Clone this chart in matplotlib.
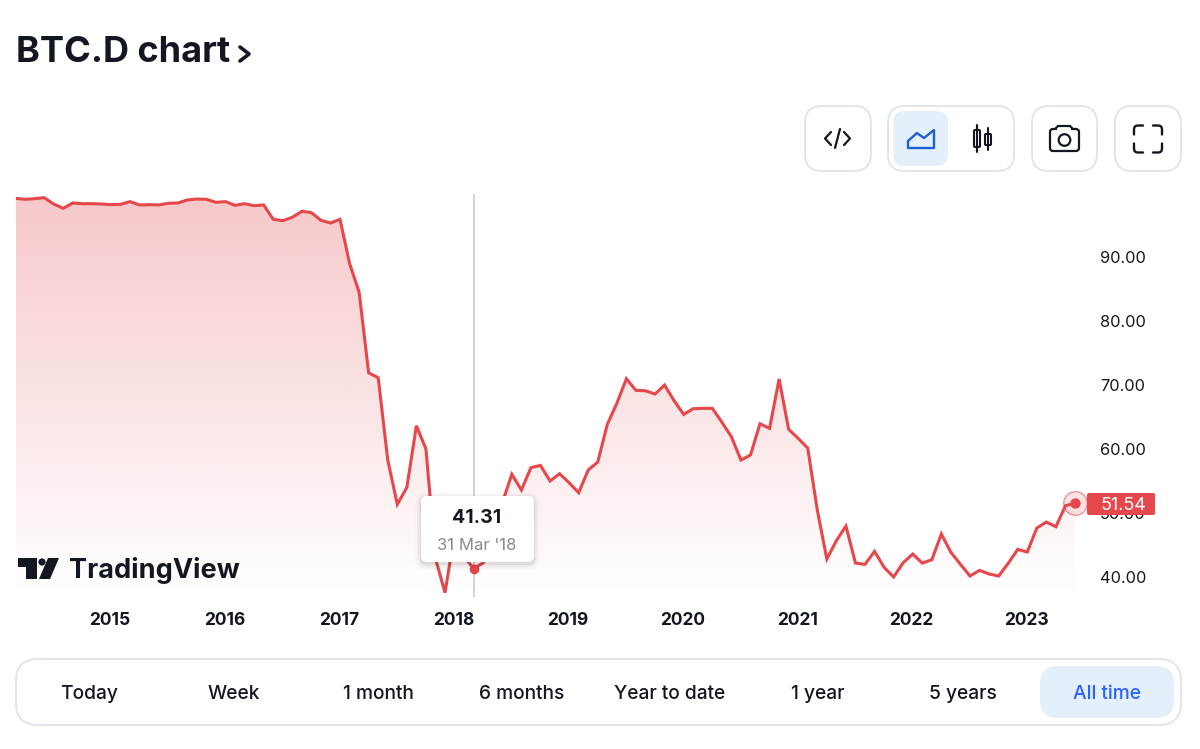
import matplotlib
matplotlib.use("Agg")
import matplotlib.pyplot as plt
import numpy as np
import pandas as pd
from matplotlib.patches import Circle, FancyBboxPatch, PathPatch, Polygon
from matplotlib.path import Path
from matplotlib.transforms import ScaledTranslation

plt.rcParams['font.family'] = ['Inter', 'DejaVu Sans']

W, H = 1200, 749

# monthly closes, Mar 2014 .. Jun 2023
dates = pd.date_range('2014-03-31', periods=112, freq='ME')
dominance = [
    99.17, 99.01, 99.11, 99.27, 98.28, 97.60, 98.44, 98.33, 98.33, 98.28,
    98.18, 98.23, 98.65, 98.13, 98.18, 98.13, 98.39, 98.44, 98.91, 99.06,
    99.01, 98.54, 98.65, 98.07, 98.33, 98.02, 98.13, 95.89, 95.68, 96.20,
    97.14, 96.93, 95.73, 95.31, 95.89, 89.00, 84.50, 71.90, 71.14, 58.28,
    51.35, 54.00, 63.64, 60.00, 42.90, 37.55, 46.80, 43.20, 41.31, 42.20,
    44.70, 51.60, 56.04, 53.60, 57.08, 57.44, 55.00, 56.14, 54.73, 53.17,
    56.71, 57.96, 63.85, 67.13, 70.98, 69.16, 69.10, 68.59, 69.99, 67.55,
    65.41, 66.30, 66.35, 66.35, 64.20, 61.92, 58.27, 59.06, 63.95, 63.22,
    70.93, 63.07, 61.66, 60.15, 50.47, 42.81, 45.67, 47.96, 42.18, 41.98,
    44.00, 41.51, 40.00, 42.24, 43.59, 42.18, 42.70, 46.72, 43.85, 41.98,
    40.15, 41.04, 40.47, 40.15, 42.13, 44.32, 43.90, 47.65, 48.59, 47.86,
    51.14, 51.54,
]
y_ticks = [40, 50, 60, 70, 80, 90]
ranges = ['Today', 'Week', '1 month', '6 months', 'Year to date', '1 year', '5 years', 'All time']
range_centers = [89, 234, 378, 522, 670, 818, 963, 1107]
hover_date = '2018-03-31'
hover_text = "31 Mar '18"

RED = '#e5474b'
INK = '#131722'
BORDER = '#e0e3eb'
BLUE = '#2962ff'
PALE = '#e3effb'


def rounded(ax, x0, y0, x1, y1, r, **kw):
    r = min(r, (x1 - x0) / 2, (y1 - y0) / 2)
    box = FancyBboxPatch((x0 + r, y0 + r), x1 - x0 - 2 * r, y1 - y0 - 2 * r,
                         boxstyle=f'round,pad={r},rounding_size={r}', **kw)
    ax.add_patch(box)


def stroke(ax, xs, ys, color=INK, lw=1.6):
    ax.plot(xs, ys, color=color, lw=lw, solid_capstyle='round', solid_joinstyle='round')


fig = plt.figure(figsize=(W / 100, H / 100), dpi=100, facecolor='white')

# chart panel, px 15.5..1075 across and 194..597 down
ax = fig.add_axes([15.5 / W, 1 - 597 / H, (1075 - 15.5) / W, (597 - 194) / H])
y_low, y_high = 40 - 20 / 6.4, 40 + 383 / 6.4
idx = np.arange(len(dates))

# vertical gradient under the line
grad = np.zeros((256, 2, 4))
grad[..., :3] = matplotlib.colors.to_rgb(RED)
grad[..., 3] = np.linspace(0.30, 0.0, 256)[:, None]
img = ax.imshow(grad, extent=(0, idx[-1], y_low, y_high), aspect='auto', origin='upper', zorder=1)
outline = np.column_stack([np.r_[idx[0], idx, idx[-1]], np.r_[y_low, dominance, y_low]])
clip = Polygon(outline, closed=True, transform=ax.transData, fc='none', ec='none')
ax.add_patch(clip)
img.set_clip_path(clip)

hover_i = dates.get_loc(pd.Timestamp(hover_date))
ax.axvline(hover_i, color='#c8c8c8', lw=1.1, zorder=2)
ax.plot(idx, dominance, color=RED, lw=2.2, zorder=3, solid_joinstyle='miter')
ax.plot([hover_i], [dominance[hover_i]], 'o', color=RED, ms=7, mew=0, zorder=4)

# halo and dot on the last value
ax.plot([idx[-1]], [dominance[-1]], 'o', ms=17, mfc=(0.9, 0.28, 0.29, 0.15), mec=(0.9, 0.28, 0.29, 0.6),
        mew=0.9, zorder=4, clip_on=False)
ax.plot([idx[-1]], [dominance[-1]], 'o', color=RED, ms=6.5, zorder=5, clip_on=False)

ax.set_xlim(idx[0], idx[-1])
ax.set_ylim(y_low, y_high)
for s in ax.spines.values():
    s.set_visible(False)
ax.yaxis.tick_right()
ax.set_yticks(y_ticks)
ax.set_yticklabels([f'{v:.2f}' for v in y_ticks], fontsize=11.8, color=INK)
jan = [i for i, d in enumerate(dates) if d.month == 1]
ax.set_xticks(jan)
ax.set_xticklabels([str(dates[i].year) for i in jan], fontsize=12.5, color=INK, fontweight='bold')
ax.tick_params(axis='y', length=0, pad=18)
ax.tick_params(axis='x', length=0, pad=10.5)
nudge = ScaledTranslation(-1 / 100, 0, fig.dpi_scale_trans)
for lab in ax.get_xticklabels():
    lab.set_transform(lab.get_transform() + nudge)

# everything around the chart is drawn in pixel coordinates on top
ui = fig.add_axes([0, 0, 1, 1], zorder=5)
ui.set_xlim(0, W)
ui.set_ylim(H, 0)
ui.axis('off')
ui.patch.set_alpha(0)

# title
ui.text(16, 52, 'BTC.D chart', fontsize=26, fontweight='bold', color=INK, va='center', ha='left')
stroke(ui, [240, 249, 240], [47, 54, 61], lw=2.6)

# toolbar
for x0, x1 in [(805, 871), (888, 1014), (1032, 1097), (1115, 1181)]:
    rounded(ui, x0, 106, x1, 171, 17, fc='white', ec=BORDER, lw=1.3)
rounded(ui, 893, 111, 948, 166, 12, fc=PALE, ec='none')

stroke(ui, [831, 825, 831], [132, 138.5, 145])
stroke(ui, [844, 850, 844], [132, 138.5, 145])
stroke(ui, [840, 835], [129, 148])

ui.add_patch(Polygon([(908, 148), (908, 141), (917, 133), (924, 138), (934, 130), (934, 148)], closed=True,
                     fc='none', ec='#1f5fd6', lw=1.7, joinstyle='round'))

stroke(ui, [977, 977], [125, 152], lw=1.5)
rounded(ui, 974, 130, 980, 147, 1, fc='white', ec=INK, lw=1.5)
stroke(ui, [988, 988], [128, 150], lw=1.5)
rounded(ui, 985, 134, 991, 145, 1, fc='white', ec=INK, lw=1.5)

rounded(ui, 1050, 129, 1079, 151, 3, fc='none', ec=INK, lw=1.6)
rounded(ui, 1057, 126, 1071, 132, 2, fc='white', ec='none')
stroke(ui, [1055, 1058, 1070, 1073], [129, 126, 126, 129])
ui.add_patch(Circle((1064.5, 140), 5.8, fc='none', ec=INK, lw=1.6))

# fullscreen corners with rounded elbows
for sx, sy in [(-1, -1), (1, -1), (-1, 1), (1, 1)]:
    cx, cy = 1148 + sx * 14, 139 + sy * 13.5
    corner = Path([(cx, cy - sy * 9), (cx, cy - sy * 4), (cx, cy), (cx - sx * 4, cy), (cx - sx * 9, cy)],
                  [Path.MOVETO, Path.LINETO, Path.CURVE3, Path.CURVE3, Path.LINETO])
    ui.add_patch(PathPatch(corner, fc='none', ec=INK, lw=1.7, capstyle='round'))

# TradingView mark
ui.add_patch(Polygon([(18, 558), (37, 558), (37, 579), (26, 579), (26, 567), (18, 567)], closed=True, fc=INK, ec='none'))
ui.add_patch(Circle((42, 562), 3.6, fc=INK, ec='none'))
ui.add_patch(Polygon([(48, 558), (59, 558), (50, 579), (39, 579)], closed=True, fc=INK, ec='none'))
ui.text(69, 571, 'TradingView', fontsize=19.5, fontweight='bold', color=INK, va='center', ha='left')

# tooltip with a soft shadow
for grow, alpha in [(6, 0.015), (4, 0.025), (2.5, 0.035), (1, 0.05)]:
    rounded(ui, 421 - grow, 496 - grow + 2, 534 + grow, 562 + grow + 2, 6 + grow, fc=(0, 0, 0, alpha), ec='none')
rounded(ui, 421, 496, 534, 562, 6, fc='white', ec='none')
ui.text(477, 518, f'{dominance[hover_i]:.2f}', fontsize=14, fontweight='bold', color=INK, ha='center', va='center')
ui.text(477, 546, hover_text, fontsize=12, color='#868993', ha='center', va='center')

# last value tag
rounded(ui, 1087, 493, 1155, 515, 2, fc=RED, ec='none')
ui.text(1123, 505, f'{dominance[-1]:.2f}', fontsize=13, color='white', ha='center', va='center')

# range selector
rounded(ui, 16, 659, 1181, 725, 22, fc='white', ec=BORDER, lw=1.3)
rounded(ui, 1040, 666, 1174, 718, 18, fc=PALE, ec='none')
for name, cx in zip(ranges, range_centers):
    ui.text(cx, 692, name, fontsize=13.8, fontweight='medium', color=BLUE if name == 'All time' else INK,
            ha='center', va='center_baseline')

fig.savefig('out.png', dpi=100, facecolor='white')
